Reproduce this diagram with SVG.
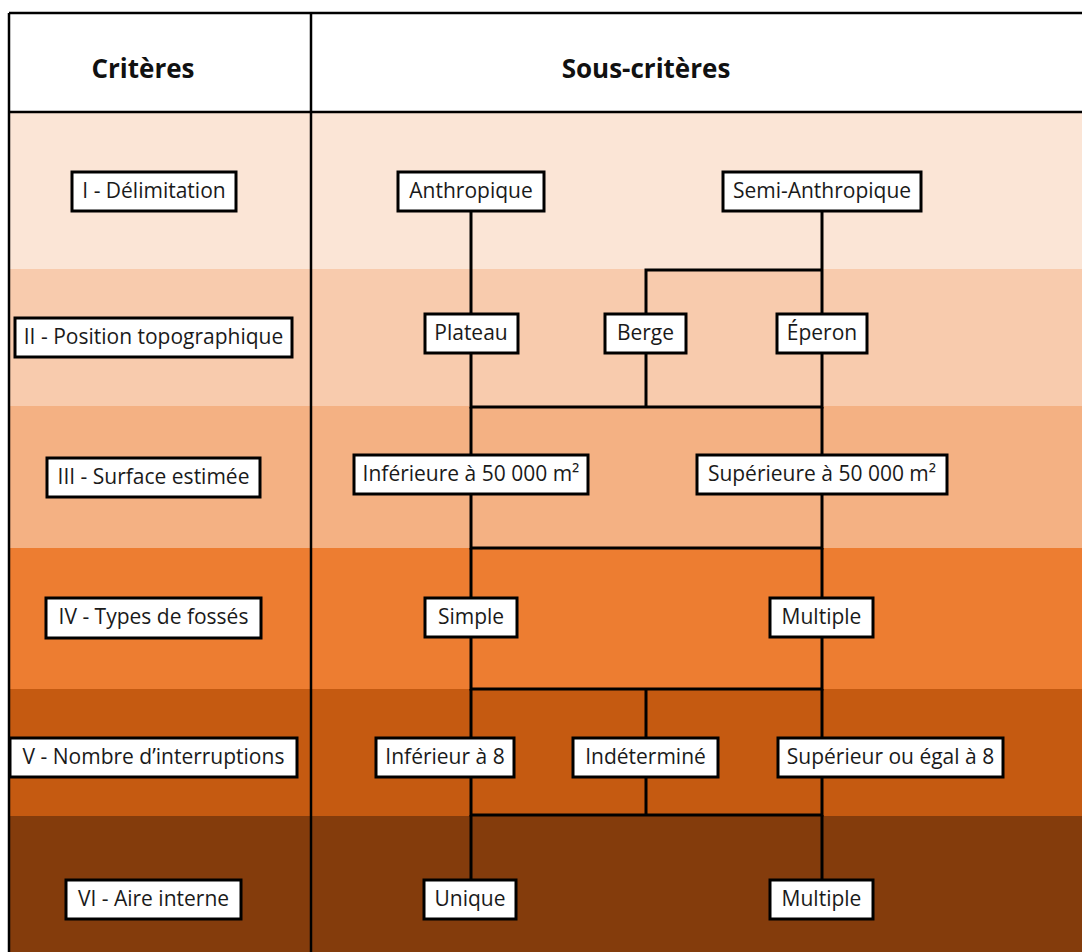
<svg xmlns="http://www.w3.org/2000/svg" width="1082" height="952" viewBox="0 0 1082 952">
<style>
.box{fill:#ffffff;stroke:#000000;stroke-width:3}
.t{font-family:"Open Sans","Liberation Sans",sans-serif;font-size:21px;fill:#1a1a1a;text-anchor:middle}
.h{font-family:"Open Sans","Liberation Sans",sans-serif;font-size:26px;font-weight:bold;fill:#111111;text-anchor:middle}
.c{fill:none;stroke:#000000;stroke-width:3}
.grid{fill:none;stroke:#000000;stroke-width:2.5}
</style>
<rect x="0" y="0" width="1082" height="952" fill="#ffffff"/>
<g id="bands">
<rect x="9" y="112" width="1073" height="157" fill="#FBE5D6"/>
<rect x="9" y="269" width="1073" height="137" fill="#F8CBAD"/>
<rect x="9" y="406" width="1073" height="142" fill="#F4B183"/>
<rect x="9" y="548" width="1073" height="141" fill="#ED7D31"/>
<rect x="9" y="689" width="1073" height="127" fill="#C55A11"/>
<rect x="9" y="816" width="1073" height="136" fill="#843C0C"/>
</g>
<g id="table">
<path class="grid" d="M9 13 H1082 M9 112 H1082 M9 13 V952 M311 13 V952"/>
<text class="h" x="143" y="78">Critères</text>
<text class="h" x="646" y="78">Sous-critères</text>
</g>
<g id="connectors">
<path class="c" d="M471 211 V314"/>
<path class="c" d="M822 211 V314"/>
<path class="c" d="M822 270 H646 V314"/>
<path class="c" d="M471 353 V407 H822 V353"/>
<path class="c" d="M646 353 V407"/>
<path class="c" d="M471 407 V455"/>
<path class="c" d="M822 407 V455"/>
<path class="c" d="M471 494 V548 H822 V494"/>
<path class="c" d="M471 548 V598"/>
<path class="c" d="M822 548 V598"/>
<path class="c" d="M471 637 V689 H822 V637"/>
<path class="c" d="M471 689 V738"/>
<path class="c" d="M646 689 V738"/>
<path class="c" d="M822 689 V738"/>
<path class="c" d="M471 777 V815 H822 V777"/>
<path class="c" d="M646 777 V815"/>
<path class="c" d="M471 815 V880"/>
<path class="c" d="M822 815 V880"/>
</g>
<g id="c1"><rect class="box" x="72" y="172" width="164" height="39"/><text class="t" x="154" y="198">I - Délimitation</text></g>
<g id="c2"><rect class="box" x="15" y="318" width="277" height="39"/><text class="t" x="153.5" y="344">II - Position topographique</text></g>
<g id="c3"><rect class="box" x="47" y="458" width="213" height="39"/><text class="t" x="153.5" y="484">III - Surface estimée</text></g>
<g id="c4"><rect class="box" x="46" y="598" width="215" height="40"/><text class="t" x="153.5" y="624">IV - Types de fossés</text></g>
<g id="c5"><rect class="box" x="10" y="738" width="287" height="39"/><text class="t" x="153.5" y="764">V - Nombre d’interruptions</text></g>
<g id="c6"><rect class="box" x="66" y="880" width="175" height="39"/><text class="t" x="153.5" y="906">VI - Aire interne</text></g>
<g id="anthropique"><rect class="box" x="398" y="172" width="146" height="39"/><text class="t" x="471" y="198">Anthropique</text></g>
<g id="semi"><rect class="box" x="723" y="172" width="198" height="39"/><text class="t" x="822" y="198">Semi-Anthropique</text></g>
<g id="plateau"><rect class="box" x="425" y="314" width="93" height="39"/><text class="t" x="471" y="340">Plateau</text></g>
<g id="berge"><rect class="box" x="605" y="314" width="81" height="39"/><text class="t" x="645.5" y="340">Berge</text></g>
<g id="eperon"><rect class="box" x="777" y="314" width="90" height="39"/><text class="t" x="822" y="340">Éperon</text></g>
<g id="inf50"><rect class="box" x="354" y="455" width="234" height="39"/><text class="t" x="471" y="481">Inférieure à 50 000 m²</text></g>
<g id="sup50"><rect class="box" x="697" y="455" width="250" height="39"/><text class="t" x="822" y="481">Supérieure à 50 000 m²</text></g>
<g id="simple"><rect class="box" x="425" y="598" width="92" height="39"/><text class="t" x="471" y="624">Simple</text></g>
<g id="multiple1"><rect class="box" x="770" y="598" width="103" height="39"/><text class="t" x="821.5" y="624">Multiple</text></g>
<g id="inf8"><rect class="box" x="376" y="738" width="138" height="39"/><text class="t" x="445" y="764">Inférieur à 8</text></g>
<g id="indet"><rect class="box" x="573" y="738" width="145" height="39"/><text class="t" x="645.5" y="764">Indéterminé</text></g>
<g id="sup8"><rect class="box" x="778" y="738" width="225" height="39"/><text class="t" x="890.5" y="764">Supérieur ou égal à 8</text></g>
<g id="unique"><rect class="box" x="424" y="880" width="92" height="39"/><text class="t" x="470" y="906">Unique</text></g>
<g id="multiple2"><rect class="box" x="770" y="880" width="103" height="39"/><text class="t" x="821.5" y="906">Multiple</text></g>
</svg>
